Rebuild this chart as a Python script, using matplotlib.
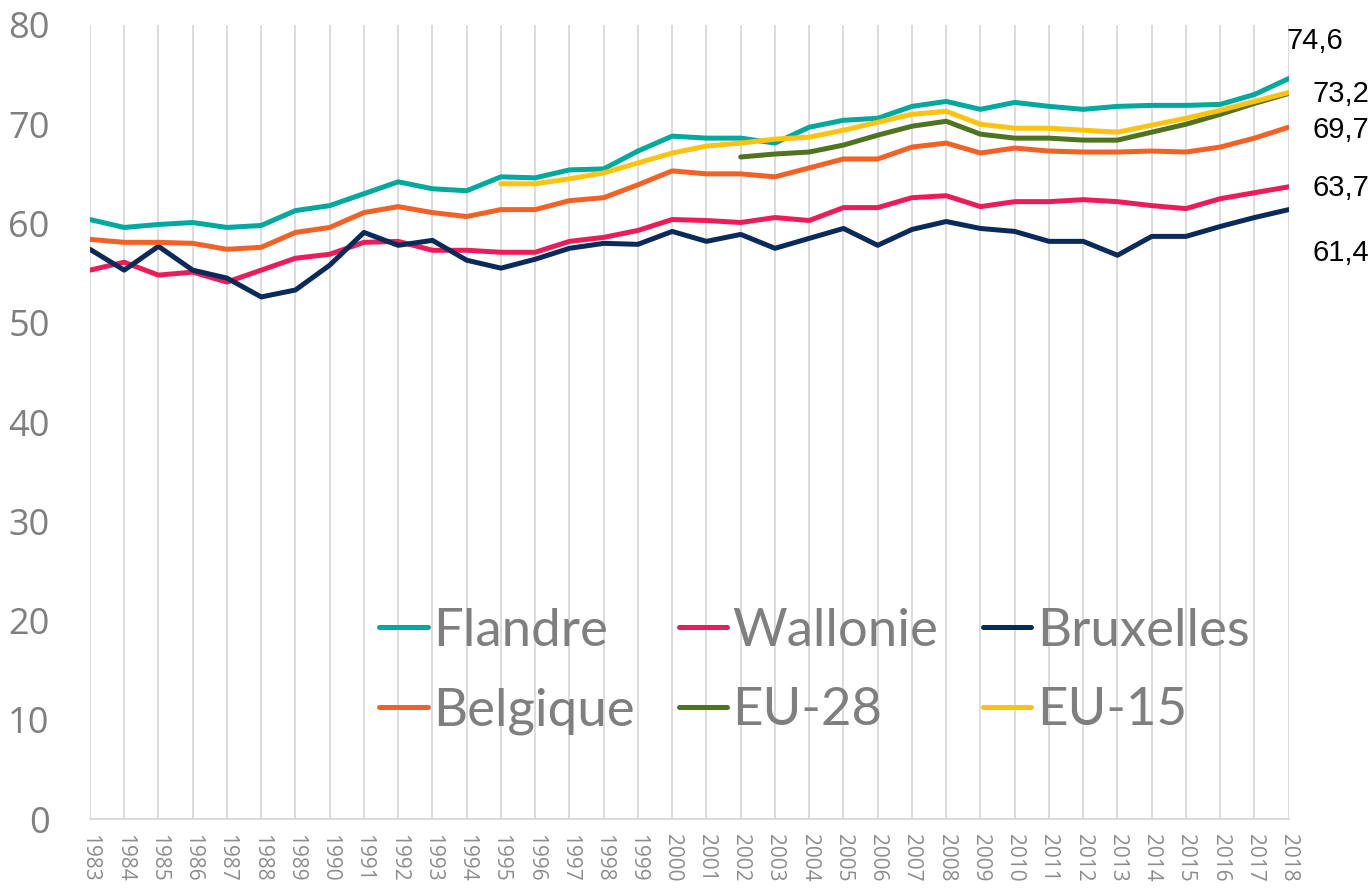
import numpy as np
import matplotlib
matplotlib.use("Agg")
import matplotlib.pyplot as plt

nan = np.nan

# Années
annees = list(range(1983, 2019))

# Taux d'emploi (%) par région
flandre = [60.4, 59.6, 59.9, 60.1, 59.6, 59.8, 61.3, 61.8, 63.0, 64.2,
           63.5, 63.3, 64.7, 64.6, 65.4, 65.5, 67.3, 68.8, 68.6, 68.6,
           68.1, 69.7, 70.4, 70.6, 71.8, 72.3, 71.5, 72.2, 71.8, 71.5,
           71.8, 71.9, 71.9, 72.0, 73.0, 74.6]
wallonie = [55.3, 56.1, 54.8, 55.1, 54.1, 55.3, 56.5, 56.9, 58.1, 58.2,
            57.3, 57.3, 57.1, 57.1, 58.2, 58.6, 59.3, 60.4, 60.3, 60.1,
            60.6, 60.3, 61.6, 61.6, 62.6, 62.8, 61.7, 62.2, 62.2, 62.4,
            62.2, 61.8, 61.5, 62.5, 63.1, 63.7]
bruxelles = [57.4, 55.3, 57.7, 55.3, 54.5, 52.6, 53.3, 55.8, 59.1, 57.8,
             58.3, 56.3, 55.5, 56.4, 57.5, 58.0, 57.9, 59.2, 58.2, 58.9,
             57.5, 58.5, 59.5, 57.8, 59.4, 60.2, 59.5, 59.2, 58.2, 58.2,
             56.8, 58.7, 58.7, 59.7, 60.6, 61.4]
belgique = [58.4, 58.1, 58.1, 58.0, 57.4, 57.6, 59.1, 59.6, 61.1, 61.7,
            61.1, 60.7, 61.4, 61.4, 62.3, 62.6, 63.9, 65.3, 65.0, 65.0,
            64.7, 65.6, 66.5, 66.5, 67.7, 68.1, 67.1, 67.6, 67.3, 67.2,
            67.2, 67.3, 67.2, 67.7, 68.6, 69.7]
eu28 = [nan] * 19 + [66.7, 67.0, 67.2, 67.9, 68.9, 69.8, 70.3, 69.0, 68.6,
                     68.6, 68.4, 68.4, 69.2, 70.0, 71.0, 72.1, 73.1]
eu15 = [nan] * 12 + [64.0, 64.0, 64.5, 65.1, 66.1, 67.1, 67.8, 68.1, 68.5,
                     68.7, 69.4, 70.2, 71.0, 71.3, 70.0, 69.6, 69.6, 69.4,
                     69.2, 69.9, 70.6, 71.4, 72.3, 73.2]

# étiquettes de fin de série : (texte, valeur, décalage x, décalage y) en points
etiquettes = [("74,6", 74.6, -1.5, 27), ("73,2", 73.2, 17, -1),
              ("69,7", 69.7, 17, -2), ("63,7", 63.7, 17, -1),
              ("61,4", 61.4, 17, -31)]

series = [
    ("Flandre", flandre, "#00A99D"),
    ("Belgique", belgique, "#F26125"),
    ("Wallonie", wallonie, "#EC1B5A"),
    ("EU-28", eu28, "#4F7421"),
    ("Bruxelles", bruxelles, "#0A2A5A"),
    ("EU-15", eu15, "#FFC20E"),
]
ordre_trace = ["Flandre", "Wallonie", "Bruxelles", "Belgique", "EU-28", "EU-15"]

fig, ax = plt.subplots(figsize=(13.71, 8.89), dpi=100)
fig.subplots_adjust(left=0.0656, right=0.940, bottom=0.0787, top=0.9719)

lignes = {}
for nom, valeurs, couleur in series:
    lignes[nom], = ax.plot(annees, valeurs, color=couleur, linewidth=3.6,
                           label=nom, solid_capstyle="round")
for i, nom in enumerate(ordre_trace):
    lignes[nom].set_zorder(3 + i)

ax.set_xlim(1983, 2018)
ax.set_ylim(0, 80)
ax.set_xticks(annees)
ax.set_xticklabels([str(a) for a in annees], rotation=270, fontsize=15,
                   color="#8C8C8C", family=["Open Sans", "DejaVu Sans"])
ax.set_yticks(range(0, 81, 10))
ax.set_yticklabels([str(v) for v in range(0, 81, 10)], fontsize=26,
                   color="#7F7F7F", family=["Open Sans", "DejaVu Sans"])
ax.tick_params(axis="both", length=0)
ax.tick_params(axis="y", pad=29)
ax.tick_params(axis="x", pad=11)

ax.grid(axis="x", color="#D9D9D9", linewidth=1.3)
ax.set_axisbelow(True)
for cote in ["top", "right", "left"]:
    ax.spines[cote].set_visible(False)
ax.spines["bottom"].set_color("#D9D9D9")
ax.spines["bottom"].set_linewidth(1.3)

for texte, val, dx, dy in etiquettes:
    ax.annotate(texte, xy=(2018, val), xytext=(dx, dy), textcoords="offset points",
                ha="left", va="center", fontsize=21, color="black",
                family=["Liberation Sans Narrow", "Liberation Sans"],
                annotation_clip=False)

leg = fig.legend(handles=[lignes[n] for n, _, _ in series], loc="center",
                 bbox_to_anchor=(0.594, 0.245), ncol=3, frameon=False,
                 handlelength=0.91, handletextpad=0.1, columnspacing=0.85,
                 labelspacing=0.62, borderpad=0,
                 prop={"family": ["Lato", "DejaVu Sans"], "size": 38})
for t in leg.get_texts():
    t.set_color("#7F7F7F")

plt.savefig("out.png", dpi=100)
